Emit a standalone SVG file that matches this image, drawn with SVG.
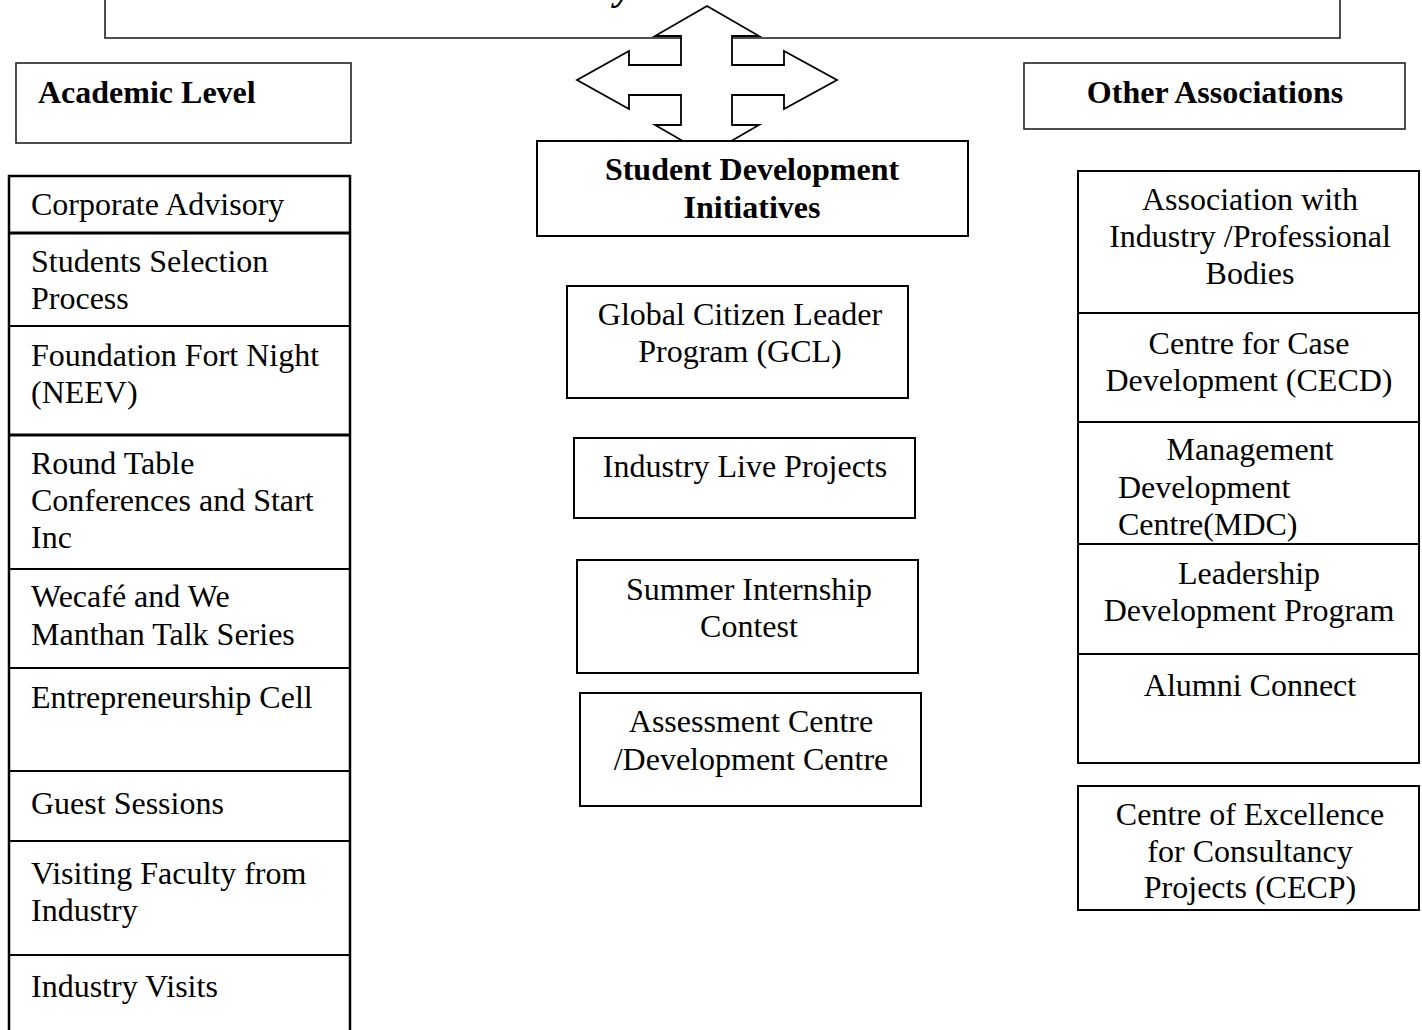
<svg xmlns="http://www.w3.org/2000/svg" width="1422" height="1030" viewBox="0 0 1422 1030">
<style>
text{font-family:"Liberation Serif","Times New Roman",serif;font-size:32px;fill:#000}
.b{font-weight:bold}
.c{text-anchor:middle}
.box{fill:#fff;stroke:#000;stroke-width:2}
.thin{fill:#fff;stroke:#222;stroke-width:1.6}
.div{stroke:#000;stroke-width:2}
.thick{stroke:#000;stroke-width:3}
</style>
<rect width="1422" height="1030" fill="#fff"/>
<g id="header">
<rect class="thin" x="105" y="-10" width="1235" height="48"/>
<text x="615" y="0" style="font-size:38px;font-weight:bold;font-style:italic">y</text>
</g>
<g id="connectors">
<polygon fill="#fff" stroke="#000" stroke-width="1.8" stroke-linejoin="miter" points="707,6 759,36 732,36 732,65 784,65 784,51 837,80 784,109 784,95 732,95 732,125 759,125 707,155 655,125 681,125 681,95 629,95 629,109 577,80 629,51 629,65 681,65 681,36 655,36"/>
</g>
<g id="academic-level">
<rect class="thin" x="16" y="63" width="335" height="80"/>
<text class="b" x="38" y="103">Academic Level</text>
</g>
<g id="academic-list">
<rect fill="#fff" stroke="#000" stroke-width="2.5" x="9" y="176" width="341" height="870"/>
<line class="thick" x1="9" y1="233" x2="350" y2="233"/>
<line class="div" x1="9" y1="326" x2="350" y2="326"/>
<line class="thick" x1="9" y1="435" x2="350" y2="435"/>
<line class="div" x1="9" y1="569" x2="350" y2="569"/>
<line class="div" x1="9" y1="668" x2="350" y2="668"/>
<line class="div" x1="9" y1="771" x2="350" y2="771"/>
<line class="div" x1="9" y1="841" x2="350" y2="841"/>
<line class="div" x1="9" y1="955" x2="350" y2="955"/>
<text x="31" y="215">Corporate Advisory</text>
<text x="31" y="272">Students Selection</text>
<text x="31" y="309">Process</text>
<text x="31" y="366">Foundation Fort Night</text>
<text x="31" y="403">(NEEV)</text>
<text x="31" y="474">Round Table</text>
<text x="31" y="511">Conferences and Start</text>
<text x="31" y="548">Inc</text>
<text x="31" y="607">Wecafé and We</text>
<text x="31" y="645">Manthan Talk Series</text>
<text x="31" y="708">Entrepreneurship Cell</text>
<text x="31" y="814">Guest Sessions</text>
<text x="31" y="884">Visiting Faculty from</text>
<text x="31" y="921">Industry</text>
<text x="31" y="997">Industry Visits</text>
</g>
<g id="student-development">
<rect class="box" x="537" y="141" width="431" height="95"/>
<text class="b c" x="752" y="180">Student Development</text>
<text class="b c" x="752" y="218">Initiatives</text>
</g>
<g id="gcl">
<rect class="box" x="567" y="286" width="341" height="112"/>
<text class="c" x="740" y="325">Global Citizen Leader</text>
<text class="c" x="740" y="362">Program (GCL)</text>
</g>
<g id="live-projects">
<rect class="box" x="574" y="438" width="341" height="80"/>
<text class="c" x="745" y="477">Industry Live Projects</text>
</g>
<g id="summer-internship">
<rect class="box" x="577" y="560" width="341" height="113"/>
<text class="c" x="749" y="600">Summer Internship</text>
<text class="c" x="749" y="637">Contest</text>
</g>
<g id="assessment-centre">
<rect class="box" x="580" y="693" width="341" height="113"/>
<text class="c" x="751" y="732">Assessment Centre</text>
<text class="c" x="751" y="770">/Development Centre</text>
</g>
<g id="other-associations">
<rect class="thin" x="1024" y="63" width="381" height="66"/>
<text class="b c" x="1215" y="103">Other Associations</text>
</g>
<g id="associations-list">
<rect class="box" x="1078" y="171" width="341" height="592"/>
<line class="div" x1="1078" y1="313" x2="1419" y2="313"/>
<line class="div" x1="1078" y1="422" x2="1419" y2="422"/>
<line class="div" x1="1078" y1="544" x2="1419" y2="544"/>
<line class="div" x1="1078" y1="654" x2="1419" y2="654"/>
<text class="c" x="1250" y="210">Association with</text>
<text class="c" x="1250" y="247">Industry /Professional</text>
<text class="c" x="1250" y="284">Bodies</text>
<text class="c" x="1249" y="354">Centre for Case</text>
<text class="c" x="1249" y="391">Development (CECD)</text>
<text class="c" x="1250" y="460">Management</text>
<text x="1118" y="498">Development</text>
<text x="1118" y="535">Centre(MDC)</text>
<text class="c" x="1249" y="584">Leadership</text>
<text class="c" x="1249" y="621">Development Program</text>
<text class="c" x="1250" y="696">Alumni Connect</text>
</g>
<g id="cecp">
<rect class="box" x="1078" y="786" width="341" height="124"/>
<text class="c" x="1250" y="825">Centre of Excellence</text>
<text class="c" x="1250" y="862">for Consultancy</text>
<text class="c" x="1250" y="898">Projects (CECP)</text>
</g>
</svg>
